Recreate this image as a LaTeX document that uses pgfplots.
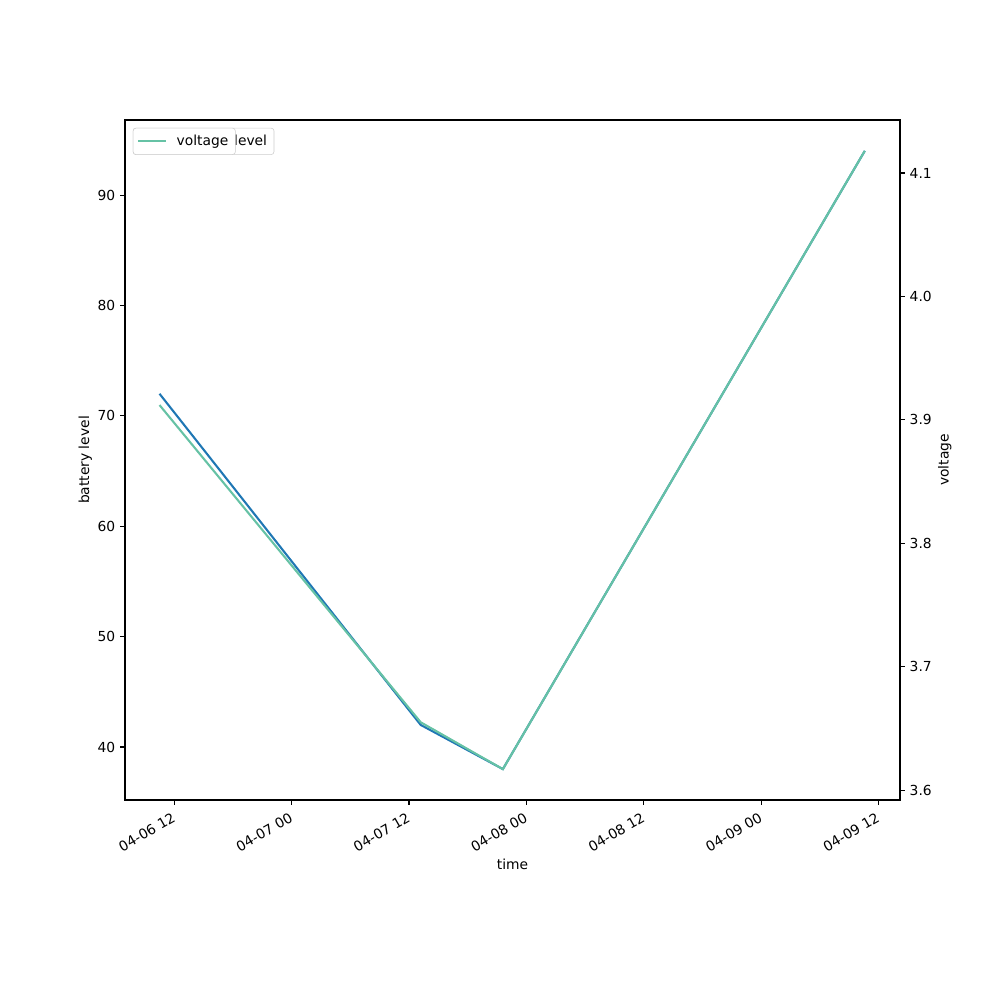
\documentclass[border=0pt]{standalone}
\usepackage{pgfplots}
\pgfplotsset{compat=1.18}
\usepackage{fontspec}
\setmainfont{DejaVu Sans}
\definecolor{battcol}{HTML}{1F77B4}
\definecolor{voltcol}{HTML}{66C2A5}

\pgfplotsset{
  base/.style={
    width=196.85mm, height=172.72mm, scale only axis,
    xmin=6.97, xmax=86.2,
    tick align=outside, major tick length=3.5pt,
    every tick/.style={black, line width=0.8pt},
    axis line style={line width=0.8pt},
    /pgf/number format/assume math mode=true,
    tick label style={font=\fontsize{10}{12}\selectfont},
    label style={font=\fontsize{10}{12}\selectfont},
    legend style={at={(0,1)}, anchor=north west, xshift=2mm, yshift=-2mm,
      draw=black!20, rounded corners=2pt, fill=white,
      font=\fontsize{10}{12}\selectfont, inner xsep=3pt, inner ysep=3pt},
    legend cell align=left,
    legend image code/.code={\draw[##1] (0pt,0pt) -- (20pt,0pt); \path (25pt,0pt);},
  },
}

\begin{document}
\begin{tikzpicture}
\begin{axis}[base,
    ymin=35.2, ymax=96.8,
    ytick={40,50,60,70,80,90},
    xtick={12,24,36,48,60,72,84},
    xticklabels={04-06 12,04-07 00,04-07 12,04-08 00,04-08 12,04-09 00,04-09 12},
    xticklabel style={rotate=30, anchor=north east, xshift=-1pt},
    xtick pos=left, ytick pos=left,
    xlabel={time}, ylabel={battery level},
    xlabel shift=-1.2mm, ylabel shift=-1mm,
  ]
  \addplot[battcol, line width=1.5pt] coordinates {
    (10.5,72.0) (37.2,42.0) (45.6,38.0) (82.6,94.0)
  };
  \addlegendentry{battery\_level}
\end{axis}
\begin{axis}[base,
    ymin=3.592, ymax=4.143,
    ytick={3.6,3.7,3.8,3.9,4.0,4.1},
    yticklabel style={/pgf/number format/fixed, /pgf/number format/precision=1,
      /pgf/number format/fixed zerofill},
    hide x axis, axis y line*=right,
    ylabel={voltage}, ylabel shift=-0.8mm,
  ]
  \addplot[voltcol, line width=1.5pt] coordinates {
    (10.5,3.912) (37.2,3.655) (45.6,3.617) (82.6,4.118)
  };
  \addlegendentry{voltage}
\end{axis}
\path (-31.75mm,-50.8mm) rectangle (222.25mm,203.2mm);
\end{tikzpicture}
\end{document}
